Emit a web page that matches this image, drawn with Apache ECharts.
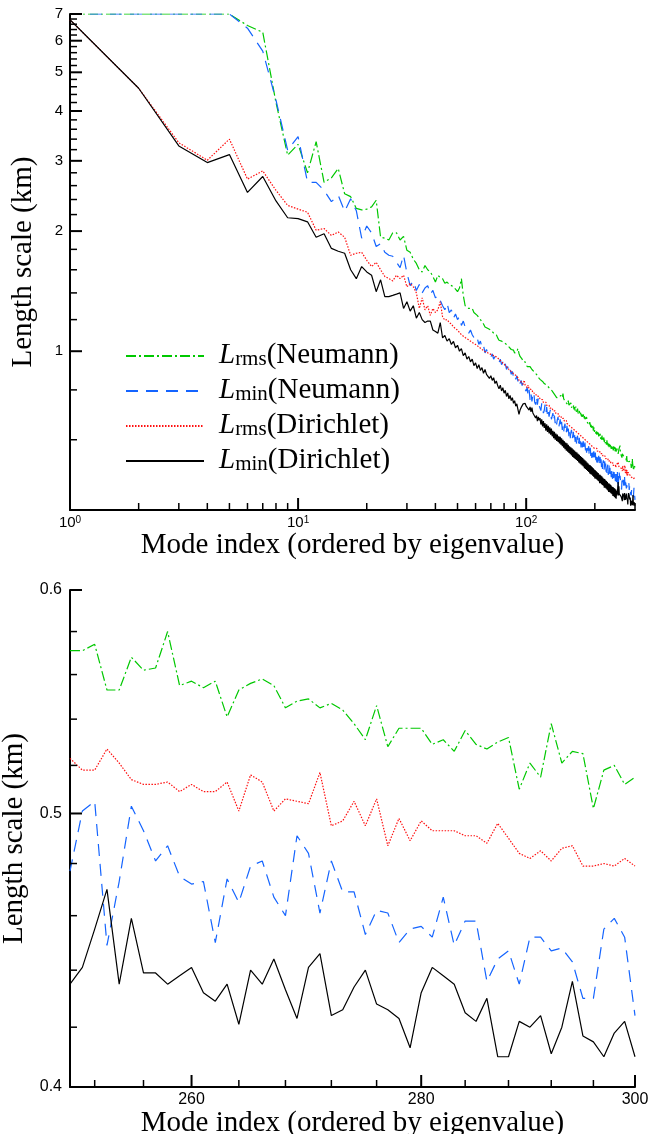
<!DOCTYPE html>
<html><head><meta charset="utf-8">
<script src="https://cdn.jsdelivr.net/npm/echarts@6/dist/echarts.min.js"></script>
<style>html,body{margin:0;padding:0;background:#fff}#c{width:649px;height:1134px}</style>
</head><body><div id="c"></div>
<script>
// Length scales for modes 1..300
const rmsNeumann = [
 7, 7, 7, 7, 7, 6.55, 6.3, 4.2, 3.1, 3.3,
 2.8, 3.35, 2.65, 2.72, 2.87, 2.48, 2.44, 2.28, 2.26, 2.27,
 2.3, 2.39, 1.93, 1.92, 1.9, 1.98, 1.98, 1.9, 1.94, 1.79,
 1.77, 1.7, 1.66, 1.6, 1.58, 1.64, 1.6, 1.58, 1.54, 1.49,
 1.55, 1.53, 1.52, 1.48, 1.49, 1.47, 1.46, 1.45, 1.43, 1.41,
 1.44, 1.52, 1.38, 1.3, 1.31, 1.28, 1.27, 1.28, 1.25, 1.26,
 1.23, 1.22, 1.2, 1.19, 1.17, 1.15, 1.16, 1.14, 1.15, 1.13,
 1.12, 1.11, 1.12, 1.1, 1.08, 1.065, 1.07, 1.06, 1.07, 1.05,
 1.055, 1.04, 1.03, 1.025, 1.02, 1.01, 1.015, 1.006, 0.99, 1.0,
 0.995, 1.016, 0.987, 0.97, 0.96, 0.955, 0.94, 0.932, 0.94, 0.93,
 0.915, 0.92, 0.905, 0.915, 0.923, 0.9, 0.895, 0.89, 0.885, 0.879,
 0.875, 0.87, 0.86, 0.865, 0.85, 0.846, 0.855, 0.84, 0.835, 0.83,
 0.838, 0.825, 0.822, 0.83, 0.815, 0.81, 0.805, 0.81, 0.8, 0.798,
 0.79, 0.785, 0.792, 0.775, 0.772, 0.765, 0.761, 0.77, 0.765, 0.772,
 0.758, 0.775, 0.78, 0.765, 0.783, 0.76, 0.752, 0.755, 0.745, 0.748,
 0.748, 0.735, 0.752, 0.733, 0.738, 0.725, 0.742, 0.722, 0.73, 0.718,
 0.735, 0.715, 0.724, 0.71, 0.727, 0.705, 0.713, 0.718, 0.698, 0.703,
 0.71, 0.692, 0.701, 0.705, 0.686, 0.694, 0.684, 0.695, 0.677, 0.688,
 0.676, 0.683, 0.669, 0.684, 0.665, 0.672, 0.661, 0.67, 0.652, 0.664,
 0.655, 0.645, 0.658, 0.641, 0.646, 0.65, 0.632, 0.645, 0.628, 0.636,
 0.64, 0.622, 0.63, 0.618, 0.633, 0.614, 0.625, 0.612, 0.616, 0.608,
 0.621, 0.603, 0.612, 0.6, 0.615, 0.597, 0.606, 0.594, 0.608, 0.592,
 0.6, 0.588, 0.597, 0.59, 0.583, 0.598, 0.58, 0.592, 0.578, 0.587,
 0.575, 0.588, 0.573, 0.582, 0.585, 0.569, 0.578, 0.566, 0.58, 0.571,
 0.564, 0.578, 0.566, 0.575, 0.561, 0.573, 0.568, 0.56, 0.574, 0.571,
 0.571, 0.574, 0.553, 0.553, 0.568, 0.562, 0.563, 0.580, 0.555, 0.557,
 0.554, 0.557, 0.541, 0.553, 0.556, 0.558, 0.555, 0.545, 0.548, 0.549,
 0.545, 0.547, 0.544, 0.538, 0.531, 0.546, 0.528, 0.536, 0.536, 0.536,
 0.529, 0.531, 0.526, 0.535, 0.529, 0.527, 0.530, 0.532, 0.510, 0.521,
 0.515, 0.538, 0.521, 0.526, 0.525, 0.502, 0.518, 0.520, 0.512, 0.515
];
const minNeumann = [
 7, 7, 7, 7, 7, 6.45, 5.65, 4.26, 3.19, 3.45,
 2.65, 2.65, 2.53, 2.37, 2.46, 2.24, 2.41, 2.25, 1.92, 2.06,
 1.98, 1.83, 1.86, 1.77, 1.74, 1.73, 1.67, 1.62, 1.74, 1.57,
 1.46, 1.5, 1.42, 1.47, 1.4, 1.44, 1.46, 1.39, 1.42, 1.36,
 1.38, 1.34, 1.3, 1.27, 1.32, 1.25, 1.27, 1.21, 1.24, 1.2,
 1.22, 1.16, 1.19, 1.15, 1.16, 1.11, 1.13, 1.1, 1.11, 1.065,
 1.08, 1.04, 1.06, 1.02, 1.035, 0.99, 1.01, 0.985, 0.995, 0.965,
 0.985, 0.955, 0.97, 0.95, 0.958, 0.935, 0.955, 0.925, 0.94, 0.91,
 0.93, 0.9, 0.915, 0.885, 0.9, 0.875, 0.89, 0.862, 0.875, 0.85,
 0.868, 0.84, 0.858, 0.83, 0.845, 0.82, 0.835, 0.81, 0.818, 0.794,
 0.812, 0.77, 0.8, 0.755, 0.785, 0.748, 0.78, 0.79, 0.745, 0.735,
 0.77, 0.735, 0.762, 0.73, 0.738, 0.71, 0.74, 0.745, 0.7, 0.71,
 0.735, 0.7, 0.725, 0.69, 0.71, 0.685, 0.705, 0.715, 0.675, 0.68,
 0.7, 0.668, 0.69, 0.66, 0.678, 0.655, 0.675, 0.684, 0.645, 0.652,
 0.675, 0.645, 0.665, 0.635, 0.652, 0.628, 0.648, 0.658, 0.62, 0.628,
 0.65, 0.62, 0.64, 0.612, 0.63, 0.605, 0.625, 0.635, 0.6, 0.605,
 0.628, 0.6, 0.618, 0.592, 0.61, 0.585, 0.605, 0.614, 0.58, 0.586,
 0.607, 0.58, 0.598, 0.574, 0.59, 0.567, 0.587, 0.595, 0.563, 0.568,
 0.59, 0.563, 0.58, 0.557, 0.572, 0.55, 0.57, 0.578, 0.546, 0.552,
 0.573, 0.546, 0.565, 0.54, 0.557, 0.535, 0.553, 0.561, 0.53, 0.536,
 0.557, 0.532, 0.55, 0.526, 0.542, 0.52, 0.539, 0.547, 0.516, 0.522,
 0.543, 0.518, 0.536, 0.512, 0.528, 0.507, 0.526, 0.533, 0.503, 0.509,
 0.53, 0.505, 0.523, 0.499, 0.515, 0.495, 0.513, 0.52, 0.49, 0.496,
 0.517, 0.493, 0.51, 0.488, 0.503, 0.483, 0.501, 0.508, 0.479, 0.485,
 0.505, 0.481, 0.498, 0.476, 0.492, 0.472, 0.49, 0.497, 0.47, 0.477,
 0.501, 0.505, 0.449, 0.473, 0.503, 0.493, 0.481, 0.487, 0.475, 0.472,
 0.473, 0.450, 0.474, 0.465, 0.479, 0.481, 0.467, 0.460, 0.491, 0.484,
 0.461, 0.481, 0.469, 0.469, 0.453, 0.462, 0.461, 0.450, 0.455, 0.456,
 0.452, 0.467, 0.449, 0.458, 0.458, 0.436, 0.444, 0.447, 0.435, 0.452,
 0.452, 0.447, 0.448, 0.443, 0.430, 0.430, 0.455, 0.459, 0.452, 0.424
];
const rmsDirichlet = [
 6.77, 4.56, 3.33, 3.01, 3.4, 2.7, 2.83, 2.53, 2.32, 2.27,
 2.23, 2.01, 2.03, 1.95, 1.99, 1.93, 1.74, 1.76, 1.77, 1.69,
 1.63, 1.67, 1.6, 1.54, 1.52, 1.5, 1.55, 1.52, 1.55, 1.45,
 1.48, 1.45, 1.4, 1.28, 1.36, 1.27, 1.3, 1.23, 1.28, 1.25,
 1.27, 1.33, 1.22, 1.196, 1.2, 1.18, 1.17, 1.15, 1.14, 1.129,
 1.125, 1.1, 1.105, 1.082, 1.09, 1.068, 1.075, 1.052, 1.058, 1.04,
 1.048, 1.025, 1.03, 1.01, 1.02, 0.998, 1.008, 0.99, 1.0, 0.982,
 0.992, 0.975, 0.985, 0.968, 0.972, 0.955, 0.962, 0.94, 0.948, 0.928,
 0.935, 0.915, 0.92, 0.9, 0.908, 0.89, 0.895, 0.878, 0.886, 0.87,
 0.876, 0.858, 0.846, 0.852, 0.838, 0.842, 0.826, 0.846, 0.822, 0.817,
 0.81, 0.822, 0.804, 0.81, 0.795, 0.801, 0.786, 0.792, 0.778, 0.784,
 0.772, 0.778, 0.765, 0.77, 0.758, 0.764, 0.75, 0.756, 0.744, 0.75,
 0.738, 0.745, 0.732, 0.738, 0.726, 0.732, 0.72, 0.726, 0.714, 0.72,
 0.709, 0.715, 0.703, 0.709, 0.698, 0.704, 0.692, 0.698, 0.687, 0.694,
 0.683, 0.689, 0.678, 0.684, 0.673, 0.679, 0.668, 0.674, 0.664, 0.67,
 0.659, 0.665, 0.655, 0.661, 0.65, 0.656, 0.646, 0.652, 0.642, 0.648,
 0.638, 0.644, 0.634, 0.64, 0.63, 0.636, 0.626, 0.632, 0.622, 0.628,
 0.619, 0.625, 0.615, 0.621, 0.611, 0.617, 0.607, 0.613, 0.604, 0.61,
 0.6, 0.606, 0.597, 0.603, 0.593, 0.599, 0.59, 0.596, 0.587, 0.593,
 0.584, 0.59, 0.58, 0.586, 0.577, 0.583, 0.574, 0.58, 0.571, 0.577,
 0.568, 0.574, 0.565, 0.571, 0.562, 0.568, 0.559, 0.565, 0.556, 0.562,
 0.554, 0.56, 0.551, 0.557, 0.548, 0.554, 0.545, 0.551, 0.543, 0.549,
 0.54, 0.546, 0.538, 0.544, 0.535, 0.541, 0.533, 0.539, 0.53, 0.536,
 0.528, 0.534, 0.526, 0.532, 0.523, 0.529, 0.521, 0.527, 0.519, 0.525,
 0.517, 0.523, 0.515, 0.521, 0.513, 0.519, 0.511, 0.517, 0.52, 0.523,
 0.518, 0.518, 0.527, 0.521, 0.514, 0.512, 0.512, 0.513, 0.509, 0.512,
 0.509, 0.509, 0.513, 0.501, 0.516, 0.513, 0.501, 0.506, 0.505, 0.504,
 0.517, 0.495, 0.497, 0.505, 0.495, 0.506, 0.487, 0.498, 0.489, 0.497,
 0.493, 0.493, 0.493, 0.491, 0.491, 0.488, 0.496, 0.490, 0.484, 0.482,
 0.485, 0.481, 0.486, 0.487, 0.479, 0.479, 0.480, 0.479, 0.482, 0.479
];
const minDirichlet = [
 6.77, 4.56, 3.27, 2.97, 3.11, 2.5, 2.74, 2.38, 2.16, 2.15,
 2.11, 1.93, 1.97, 1.81, 1.78, 1.76, 1.6, 1.52, 1.63, 1.58,
 1.55, 1.41, 1.51, 1.37, 1.37, 1.38, 1.39, 1.4, 1.28, 1.33,
 1.26, 1.3, 1.21, 1.25, 1.2, 1.18, 1.19, 1.19, 1.13, 1.12,
 1.11, 1.18, 1.08, 1.095, 1.06, 1.075, 1.04, 1.058, 1.02, 1.035,
 1.0, 1.015, 0.975, 0.99, 0.955, 0.97, 0.94, 0.955, 0.92, 0.935,
 0.905, 0.925, 0.895, 0.91, 0.88, 0.9, 0.875, 0.882, 0.855, 0.868,
 0.845, 0.858, 0.83, 0.842, 0.82, 0.805, 0.822, 0.795, 0.81, 0.785,
 0.798, 0.77, 0.786, 0.76, 0.775, 0.752, 0.765, 0.74, 0.752, 0.728,
 0.738, 0.715, 0.695, 0.712, 0.722, 0.73, 0.738, 0.745, 0.74, 0.728,
 0.72, 0.732, 0.712, 0.725, 0.705, 0.722, 0.7, 0.695, 0.705, 0.68,
 0.69, 0.668, 0.685, 0.671, 0.68, 0.655, 0.675, 0.648, 0.668, 0.642,
 0.66, 0.632, 0.656, 0.628, 0.65, 0.622, 0.645, 0.618, 0.64, 0.612,
 0.632, 0.605, 0.628, 0.6, 0.622, 0.596, 0.618, 0.592, 0.612, 0.587,
 0.61, 0.583, 0.605, 0.578, 0.6, 0.573, 0.595, 0.568, 0.59, 0.563,
 0.588, 0.56, 0.583, 0.556, 0.578, 0.552, 0.574, 0.548, 0.571, 0.543,
 0.567, 0.54, 0.564, 0.537, 0.56, 0.534, 0.557, 0.531, 0.553, 0.526,
 0.55, 0.523, 0.546, 0.52, 0.543, 0.517, 0.54, 0.514, 0.536, 0.509,
 0.533, 0.507, 0.53, 0.504, 0.526, 0.501, 0.523, 0.498, 0.519, 0.494,
 0.518, 0.492, 0.515, 0.49, 0.512, 0.487, 0.509, 0.484, 0.505, 0.48,
 0.503, 0.479, 0.5, 0.477, 0.497, 0.474, 0.495, 0.472, 0.491, 0.467,
 0.49, 0.467, 0.487, 0.464, 0.485, 0.462, 0.482, 0.46, 0.479, 0.455,
 0.478, 0.455, 0.475, 0.453, 0.473, 0.45, 0.47, 0.448, 0.467, 0.444,
 0.466, 0.444, 0.464, 0.442, 0.462, 0.44, 0.459, 0.438, 0.457, 0.434,
 0.456, 0.433, 0.454, 0.431, 0.452, 0.429, 0.45, 0.427, 0.447, 0.435,
 0.441, 0.455, 0.470, 0.435, 0.459, 0.439, 0.439, 0.435, 0.438, 0.441,
 0.432, 0.429, 0.435, 0.421, 0.440, 0.435, 0.444, 0.433, 0.423, 0.441,
 0.446, 0.424, 0.426, 0.434, 0.440, 0.428, 0.426, 0.423, 0.413, 0.432,
 0.441, 0.438, 0.435, 0.425, 0.422, 0.430, 0.410, 0.410, 0.422, 0.420,
 0.424, 0.411, 0.420, 0.436, 0.417, 0.415, 0.410, 0.418, 0.422, 0.410
];

// tick values
const xMajorTop = [1, 10, 100];
const xMinorTop = [2, 3, 4, 5, 6, 7, 8, 9, 20, 30, 40, 50, 60, 70, 80, 90, 200, 300];
const yMajorTop = [1, 2, 3, 4, 5, 6, 7];
const yMinorTop = [0.6, 0.8, 1.2, 1.4, 1.6, 1.8, 2.2, 2.4, 2.6, 2.8, 3.2, 3.4, 3.6, 3.8,
  4.2, 4.4, 4.6, 4.8, 5.2, 5.4, 5.6, 5.8, 6.2, 6.4, 6.6, 6.8];
const xMajorBottom = [260, 280, 300];
const xMinorBottom = [252, 256, 264, 268, 272, 276, 284, 288, 292, 296];
const yMajorBottom = [0.4, 0.5, 0.6];
const yMinorBottom = [0.42, 0.44, 0.46, 0.48, 0.52, 0.54, 0.56, 0.58];

const seriesNames = ['Lrms(Neumann)', 'Lmin(Neumann)', 'Lrms(Dirichlet)', 'Lmin(Dirichlet)'];
const seriesValues = [rmsNeumann, minNeumann, rmsDirichlet, minDirichlet];
seriesValues.forEach(function (a, i) { if (a.length !== 300) throw new Error('bad length ' + i + ': ' + a.length); });
const modeIndex = [];
for (let i = 1; i <= 300; i++) modeIndex.push(i);

const colors = ['#00c800', '#1464ff', '#ff1010', '#000000'];
const dashes = [[10, 3, 2, 3], [12, 8], [1.5, 1.5], 'solid'];

const SERIF = "'Liberation Serif', 'Times New Roman', serif";
const SANS = "'Liberation Sans', Arial, sans-serif";

function majorAxis(gridIndex, pos, min, max, ticks, fmt, fontSize, margin, rich) {
  return {
    gridIndex: gridIndex, position: pos, type: 'log', min: min, max: max,
    axisLine: { show: true, lineStyle: { color: '#000', width: 2 } },
    axisTick: { show: false },
    axisLabel: { show: true, customValues: ticks, formatter: fmt, color: '#000', fontFamily: SANS, fontSize: fontSize, margin: margin, rich: rich || {} },
    splitLine: { show: false }
  };
}
const xTitle = 'Mode index (ordered by eigenvalue)';
const yTitle = 'Length scale (km)';
const titleStyle = { fontFamily: SERIF, fontSize: 29, color: '#000' };

const xTop = majorAxis(0, 'bottom', 1, 300, xMajorTop,
  function (v) { return '{b|10}{e|' + Math.round(Math.log10(v)) + '}'; }, 14, 5,
  { b: { fontFamily: SANS, fontSize: 15, lineHeight: 16, verticalAlign: 'top', color: '#000' },
    e: { fontFamily: SANS, fontSize: 10, lineHeight: 6, verticalAlign: 'top', color: '#000' } });
Object.assign(xTop, { name: xTitle, nameLocation: 'middle', nameGap: 14, nameTextStyle: titleStyle });
const yTop = majorAxis(0, 'left', 0.4, 7, yMajorTop, function (v) { return String(Math.round(v)); }, 15, 7);
Object.assign(yTop, { name: yTitle, nameLocation: 'middle', nameGap: 32, nameRotate: 90, nameTextStyle: titleStyle });
const xBot = majorAxis(1, 'bottom', 250, 300, xMajorBottom, function (v) { return String(Math.round(v)); }, 16, 5);
Object.assign(xBot, { name: xTitle, nameLocation: 'middle', nameGap: 12, nameTextStyle: titleStyle });
const yBot = majorAxis(1, 'left', 0.4, 0.6, yMajorBottom, function (v) { return v.toFixed(1); }, 16, 8);
Object.assign(yBot, { name: yTitle, nameLocation: 'middle', nameGap: 32, nameRotate: 90, nameTextStyle: titleStyle });

const series = [];
seriesValues.forEach(function (vals, i) {
  const all = vals.map(function (v, k) { return [modeIndex[k], v]; });
  const base = {
    type: 'line', name: seriesNames[i], symbol: 'none', showSymbol: false, clip: true,
    lineStyle: { color: colors[i], width: 1.2, type: dashes[i] },
    itemStyle: { color: colors[i] }, emphasis: { disabled: true }
  };
  series.push(Object.assign({}, base, { xAxisIndex: 0, yAxisIndex: 0, data: all }));
  series.push(Object.assign({}, base, { xAxisIndex: 1, yAxisIndex: 1, data: all.filter(function (p) { return p[0] >= 250; }) }));
});

// tick marks placed through the axes' own scales (api.coord)
function tickSeries(axisIdx, dir, items) {
  return {
    type: 'custom', coordinateSystem: 'cartesian2d', xAxisIndex: axisIdx, yAxisIndex: axisIdx,
    silent: true, clip: false, z: 5, data: items,
    renderItem: function (params, api) {
      const p = api.coord([api.value(0), api.value(1)]);
      const len = api.value(2);
      const shape = dir === 'x'
        ? { x1: p[0], y1: p[1], x2: p[0], y2: p[1] - len }
        : { x1: p[0], y1: p[1], x2: p[0] + len, y2: p[1] };
      return { type: 'line', shape: shape, style: { stroke: '#000', lineWidth: len > 9 ? 2 : 1.5 } };
    }
  };
}
function xItems(major, minor, yAt) {
  return major.map(function (v) { return [v, yAt, 12]; }).concat(minor.map(function (v) { return [v, yAt, 7]; }));
}
function yItems(major, minor, xAt) {
  return major.map(function (v) { return [xAt, v, 12]; }).concat(minor.map(function (v) { return [xAt, v, 7]; }));
}
series.push(tickSeries(0, 'x', xItems(xMajorTop, xMinorTop, 0.4)));
series.push(tickSeries(0, 'y', yItems(yMajorTop, yMinorTop, 1)));
series.push(tickSeries(1, 'x', xItems(xMajorBottom, xMinorBottom, 0.4)));
series.push(tickSeries(1, 'y', yItems(yMajorBottom, yMinorBottom, 250)));

const chart = echarts.init(document.getElementById('c'), null, { renderer: 'canvas' });
chart.setOption({
  animation: false,
  backgroundColor: '#fff',
  grid: [
    { left: 70, right: 14, top: 14, height: 496, containLabel: false, outerBoundsMode: 'none' },
    { left: 70, right: 14, top: 590, height: 497, containLabel: false, outerBoundsMode: 'none' }
  ],
  xAxis: [xTop, xBot],
  yAxis: [yTop, yBot],
  legend: {
    show: true, orient: 'vertical', left: 120, top: 336, itemWidth: 78, itemHeight: 14, itemGap: 6,
    selectedMode: false,
    itemStyle: { opacity: 0 },
    data: seriesNames,
    formatter: function (name) {
      const m = name.match(/^L(rms|min)\((.*)\)$/);
      return '{l|L}{s|' + m[1] + '}{t|(' + m[2] + ')}';
    },
    textStyle: {
      padding: [0, 0, 0, 10],
      rich: {
        l: { fontFamily: SERIF, fontStyle: 'italic', fontSize: 29, lineHeight: 28, verticalAlign: 'bottom', color: '#000' },
        s: { fontFamily: SERIF, fontSize: 21, lineHeight: 14, verticalAlign: 'bottom', color: '#000' },
        t: { fontFamily: SERIF, fontSize: 29, lineHeight: 28, verticalAlign: 'bottom', color: '#000' }
      }
    }
  },
  series: series
});
</script>
</body></html>
